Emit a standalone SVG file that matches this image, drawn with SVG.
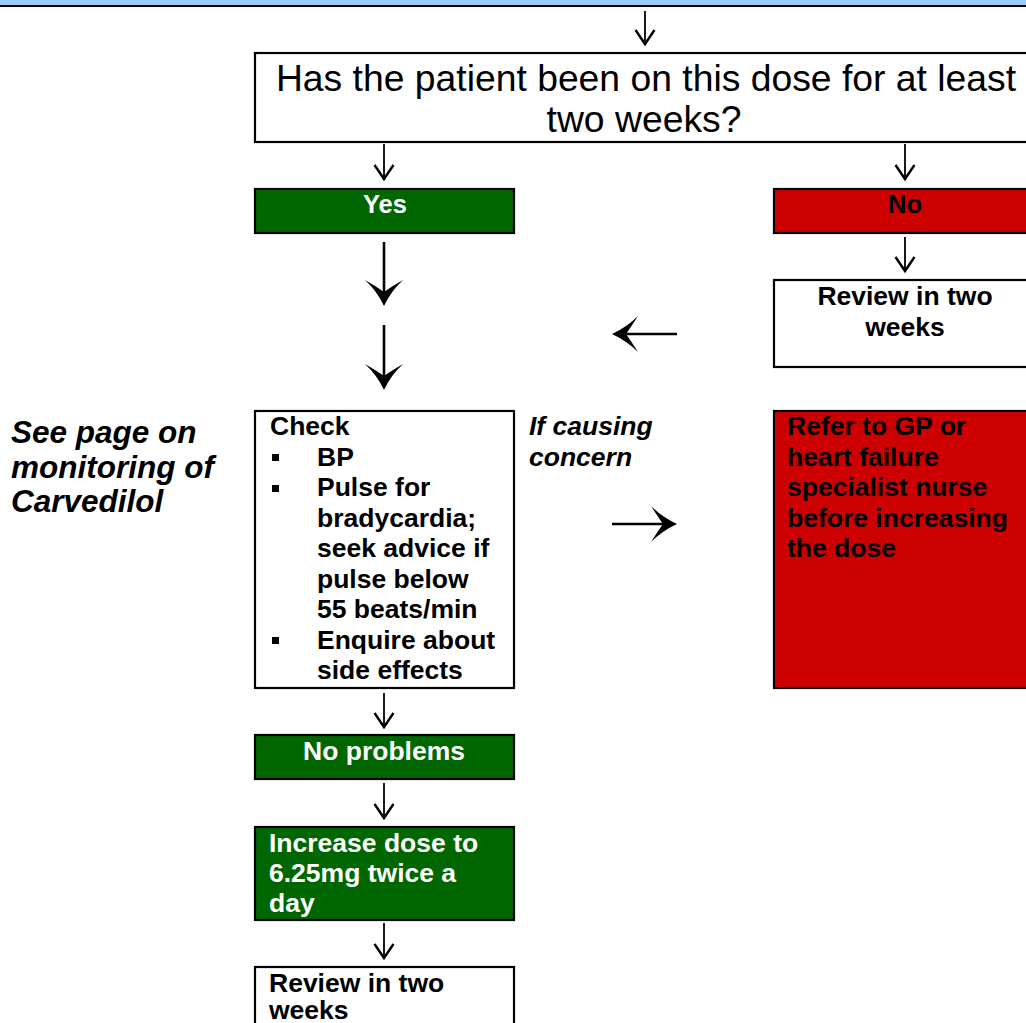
<svg xmlns="http://www.w3.org/2000/svg" width="1026" height="1023" viewBox="0 0 1026 1023">
<style>
  text { font-family: "Liberation Sans", Arial, sans-serif; }
  .box { stroke: #000; stroke-width: 2.2; }
  .white { fill: #fff; }
  .green { fill: #006600; }
  .red { fill: #CC0000; }
  .b { font-weight: bold; font-size: 26.5px; }
  .yn { font-weight: bold; font-size: 25.5px; }
  .bi { font-weight: bold; font-style: italic; font-size: 26.5px; }
  .see { font-weight: bold; font-style: italic; font-size: 31.5px; }
  .q { font-size: 37.3px; }
  .wt { fill: #fff; }
  .bk { fill: #000; }
  .thin { stroke: #000; stroke-width: 1.8; fill: none; }
  .vh { stroke: #000; stroke-width: 2.4; fill: none; stroke-linejoin: miter; }
  .big { stroke: #000; stroke-width: 2.6; fill: none; }
  .head { fill: #000; stroke: none; }
</style>
<rect width="1026" height="1023" fill="#fff"/>
<g id="banner">
  <rect x="0" y="0" width="1026" height="6" fill="#99CCFF"/>
  <line x1="0" y1="6" x2="1026" y2="6" stroke="#000" stroke-width="2"/>
</g>

<g id="question">
  <rect class="box white" x="255" y="53" width="790" height="89"/>
  <text class="q" x="646" y="91" text-anchor="middle">Has the patient been on this dose for at least</text>
  <text class="q" x="644" y="132" text-anchor="middle">two weeks?</text>
</g>

<g id="yes">
  <rect class="box green" x="255" y="189" width="259" height="44"/>
  <text class="yn wt" x="385" y="213" text-anchor="middle">Yes</text>
</g>

<g id="no">
  <rect class="box red" x="774" y="189" width="270" height="44"/>
  <text class="yn bk" x="905" y="213" text-anchor="middle">No</text>
</g>

<g id="review-right">
  <rect class="box white" x="774" y="280" width="270" height="87"/>
  <text class="b" x="905" y="305" text-anchor="middle">Review in two</text>
  <text class="b" x="905" y="336" text-anchor="middle">weeks</text>
</g>

<g id="see-page">
  <text class="see" x="11" y="443">See page on</text>
  <text class="see" x="11" y="478">monitoring of</text>
  <text class="see" x="11" y="512">Carvedilol</text>
</g>

<g id="check">
  <rect class="box white" x="255" y="411" width="259" height="277"/>
  <text class="b" x="270" y="435">Check</text>
  <rect x="272" y="454" width="7" height="7"/>
  <text class="b" x="317" y="465.5">BP</text>
  <rect x="272" y="485" width="7" height="7"/>
  <text class="b" x="317" y="496">Pulse for</text>
  <text class="b" x="317" y="526.5">bradycardia;</text>
  <text class="b" x="317" y="557">seek advice if</text>
  <text class="b" x="317" y="587.5">pulse below</text>
  <text class="b" x="317" y="618">55 beats/min</text>
  <rect x="272" y="637" width="7" height="7"/>
  <text class="b" x="317" y="648.5">Enquire about</text>
  <text class="b" x="317" y="679">side effects</text>
</g>

<g id="if-causing">
  <text class="bi" x="529" y="435">If causing</text>
  <text class="bi" x="529" y="466">concern</text>
</g>

<g id="refer">
  <rect class="box red" x="774" y="411" width="270" height="277"/>
  <text class="b bk" x="787" y="435">Refer to GP or</text>
  <text class="b bk" x="787" y="465.5">heart failure</text>
  <text class="b bk" x="787" y="496">specialist nurse</text>
  <text class="b bk" x="787" y="526.5">before increasing</text>
  <text class="b bk" x="787" y="557">the dose</text>
</g>

<g id="no-problems">
  <rect class="box green" x="255" y="735" width="259" height="44"/>
  <text class="b wt" x="384" y="760" text-anchor="middle">No problems</text>
</g>

<g id="increase">
  <rect class="box green" x="255" y="827" width="259" height="93"/>
  <text class="b wt" x="269" y="852">Increase dose to</text>
  <text class="b wt" x="269" y="882">6.25mg twice a</text>
  <text class="b wt" x="269" y="912">day</text>
</g>

<g id="review-bottom">
  <rect class="box white" x="255" y="967" width="259" height="80"/>
  <text class="b" x="269" y="992">Review in two</text>
  <text class="b" x="269" y="1019">weeks</text>
</g>

<g id="connectors">
  <!-- thin down arrows -->
  <g>
    <line class="thin" x1="645" y1="11" x2="645" y2="43"/>
    <polyline class="vh" points="635.5,30 645,44 654.5,30"/>
  </g>
  <g>
    <line class="thin" x1="384" y1="144" x2="384" y2="177"/>
    <polyline class="vh" points="374.5,165 384,179 393.5,165"/>
  </g>
  <g>
    <line class="thin" x1="905" y1="144" x2="905" y2="177"/>
    <polyline class="vh" points="895.5,165 905,179 914.5,165"/>
  </g>
  <g>
    <line class="thin" x1="905" y1="237" x2="905" y2="269"/>
    <polyline class="vh" points="895.5,257 905,271 914.5,257"/>
  </g>
  <g>
    <line class="thin" x1="384" y1="693" x2="384" y2="725"/>
    <polyline class="vh" points="374.5,713 384,727 393.5,713"/>
  </g>
  <g>
    <line class="thin" x1="384" y1="783" x2="384" y2="816"/>
    <polyline class="vh" points="374.5,804 384,818 393.5,804"/>
  </g>
  <g>
    <line class="thin" x1="384" y1="923" x2="384" y2="956"/>
    <polyline class="vh" points="374.5,944 384,958 393.5,944"/>
  </g>
  <!-- big down arrows -->
  <g>
    <line class="big" x1="384" y1="242" x2="384" y2="300"/>
    <path class="head" d="M384,306 Q377,291 365,280 Q377,287 384,292 Q391,287 403,280 Q391,291 384,306 Z"/>
  </g>
  <g>
    <line class="big" x1="384" y1="325" x2="384" y2="384"/>
    <path class="head" d="M384,390 Q377,375 365,364 Q377,371 384,376 Q391,371 403,364 Q391,375 384,390 Z"/>
  </g>
  <!-- left arrow -->
  <g>
    <line class="big" x1="677" y1="334" x2="618" y2="334"/>
    <path class="head" d="M612,334 Q627,327 638,316 Q631,327 626,334 Q631,341 638,352 Q627,341 612,334 Z"/>
  </g>
  <!-- right arrow -->
  <g>
    <line class="big" x1="612" y1="524" x2="671" y2="524"/>
    <path class="head" d="M677,524 Q662,517 651,506 Q658,517 663,524 Q658,531 651,542 Q662,531 677,524 Z"/>
  </g>
</g>
</svg>
